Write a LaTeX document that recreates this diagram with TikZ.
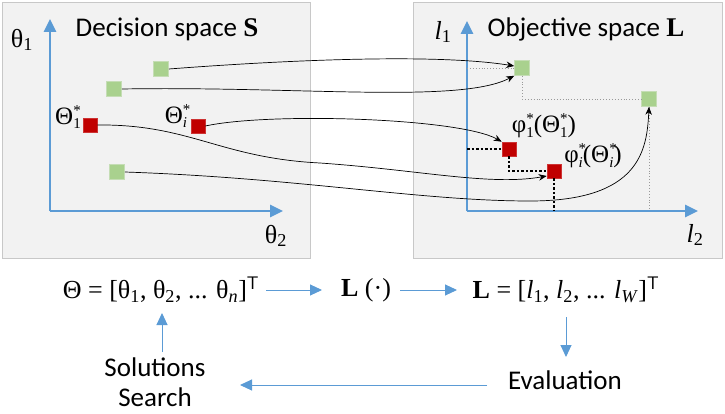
\documentclass[tikz,border=0pt]{standalone}
\usepackage{fontspec}
\setmainfont{Carlito}
\newfontfamily\tms{Liberation Serif}
\usetikzlibrary{arrows.meta}
\definecolor{axblue}{HTML}{5B9BD5}
\definecolor{panelfill}{HTML}{F2F2F2}
\definecolor{panelline}{HTML}{C8C8C8}
\definecolor{sqgreen}{HTML}{A9D18E}
\definecolor{sqgreenline}{HTML}{C5DDB5}
\definecolor{sqred}{HTML}{C00000}
\newcommand\ssp[2]{{\fontsize{15}{15}\selectfont\rlap{\raisebox{0.6em}{#2}}\raisebox{-0.3em}{#1}}}
\tikzset{
  panel/.style={fill=panelfill, draw=panelline, line width=0.8pt},
  axisline/.style={draw=axblue, line width=2.6pt, -{Triangle[length=13pt,width=12pt]}},
  gsq/.style={rectangle, fill=sqgreen, draw=sqgreenline, line width=0.6pt, minimum size=15pt, inner sep=0pt},
  rsq/.style={rectangle, fill=sqred, draw=sqred!80!white, line width=0.6pt, minimum size=14pt, inner sep=0pt},
  mapcurve/.style={draw=black, line width=0.7pt, -{Stealth[length=8pt,width=6.5pt]}},
  gdot/.style={draw=gray!80, line width=0.9pt, dotted},
  bdash/.style={draw=black, line width=1.6pt, dash pattern=on 2.5pt off 2pt},
  barrow/.style={draw=axblue, line width=1pt, -{Triangle[length=12pt,width=11pt]}},
  lbl/.style={inner sep=0pt, font=\fontsize{27}{31}\selectfont},
  mlbl/.style={inner sep=0pt, font=\fontsize{26}{30}\selectfont\tms},
  slbl/.style={inner sep=0pt, font=\fontsize{25}{28}\selectfont\tms},
}
\begin{document}
\begin{tikzpicture}[x=1pt,y=-1pt]
\useasboundingbox (0,0) rectangle (725,414);
% panels
\draw[panel] (2,2) rectangle (310,258);
\draw[panel] (413,2) rectangle (722,258);
% axes
\coordinate (oa) at (50,211);
\coordinate (ya) at (50,19);
\coordinate (xa) at (283,211);
\coordinate (ob) at (467,211);
\coordinate (yb) at (467,21);
\coordinate (xb) at (698,211);
\draw[axisline] (oa) -- (ya);
\draw[axisline] (oa) -- (xa);
\draw[axisline] (ob) -- (yb);
\draw[axisline] (ob) -- (xb);
% axis labels and titles
\node[mlbl] (t1) at (22,40) {θ\textsubscript{1}};
\node[mlbl] (t2) at (276,236) {θ\textsubscript{2}};
\node[mlbl] (l1) at (443,32) {\textit{l}\textsubscript{1}};
\node[mlbl] (l2) at (695,235) {\textit{l}\textsubscript{2}};
\node[lbl] (ds) at (167,29) {Decision space {\tms\bfseries S}};
\node[lbl] (os) at (586,29) {Objective space {\tms\bfseries L}};
% squares
\node[gsq] (g1) at (161,69) {};
\node[gsq] (g2) at (114,89) {};
\node[gsq] (g3) at (117,172) {};
\node[rsq] (r1) at (90,125) {};
\node[rsq] (ri) at (198,126) {};
\node[gsq] (h1) at (522,68) {};
\node[gsq] (h2) at (649,99) {};
\node[rsq] (p1) at (509,149) {};
\node[rsq] (pi) at (554,171) {};
% square labels
\node[slbl] (lr1) at (68,117) {Θ\ssp{1}{*}};
\node[slbl] (lri) at (176,116) {Θ\ssp{\textit{i}}{*}};
\node[slbl] (lp1) at (544,126) {φ\ssp{1}{*}(Θ\ssp{1}{*})};
\node[slbl] (lpi) at (593,156) {φ\ssp{\textit{i}}{*}(Θ\ssp{\textit{i}}{*})};
% projection lines
\draw[gdot] (ob |- h1) -- (h1.west);
\draw[gdot] (h1.south) |- (h2.west);
\draw[gdot] (h2.south) -- (h2 |- ob);
\draw[bdash] (ob |- p1) -- (p1.west);
\draw[bdash] (p1.south) |- (pi.west);
\draw[bdash] (pi.south) -- (pi |- ob);
% mapping curves
\draw[mapcurve] (g1.east) .. controls (300,59) and (440,54) .. ([yshift=2pt]h1.west);
\draw[mapcurve] (g2.east) .. controls (300,86) and (460,104) .. (h1.south west);
\draw[mapcurve] (ri.east) .. controls (270,112) and (460,118) .. (p1.north west);
\draw[mapcurve] (r1.east) .. controls (190,124) and (220,158) .. (320,163) .. controls (420,170) and (490,186) .. ([yshift=-5pt]pi.west);
\draw[mapcurve] (g3.east) .. controls (300,178) and (420,201) .. (530,201) .. controls (640,201) and (647,150) .. (h2.south);
% bottom row
\node[mlbl] (thv) at (161,290) {Θ = [θ\textsubscript{1}, θ\textsubscript{2}, ... θ\textsubscript{\textit{n}}]\textsuperscript{\sffamily T}};
\node[mlbl] (lf) at (366,290) {{\bfseries L} (·)};
\node[mlbl] (lv) at (566,290) {{\bfseries L} = [\textit{l}\textsubscript{1}, \textit{l}\textsubscript{2}, ... \textit{l}\textsubscript{\textit{W}}]\textsuperscript{\sffamily T}};
\node[lbl, align=center, font=\fontsize{27}{30}\selectfont] (ss) at (155,382) {Solutions\\Search};
\node[lbl] (ev) at (565,380) {Evaluation};
\coordinate (a1s) at (266,290);
\coordinate (a1e) at (322,290);
\coordinate (a2s) at (400,290);
\coordinate (a2e) at (457,290);
\coordinate (a3s) at (566,317);
\coordinate (a3e) at (566,357);
\coordinate (a4s) at (487,385);
\coordinate (a4e) at (240,385);
\coordinate (a5s) at (162,352);
\coordinate (a5e) at (162,313);
\draw[barrow] (a1s) -- (a1e);
\draw[barrow] (a2s) -- (a2e);
\draw[barrow] (a3s) -- (a3e);
\draw[barrow] (a4s) -- (a4e);
\draw[barrow] (a5s) -- (a5e);
\end{tikzpicture}
\end{document}
